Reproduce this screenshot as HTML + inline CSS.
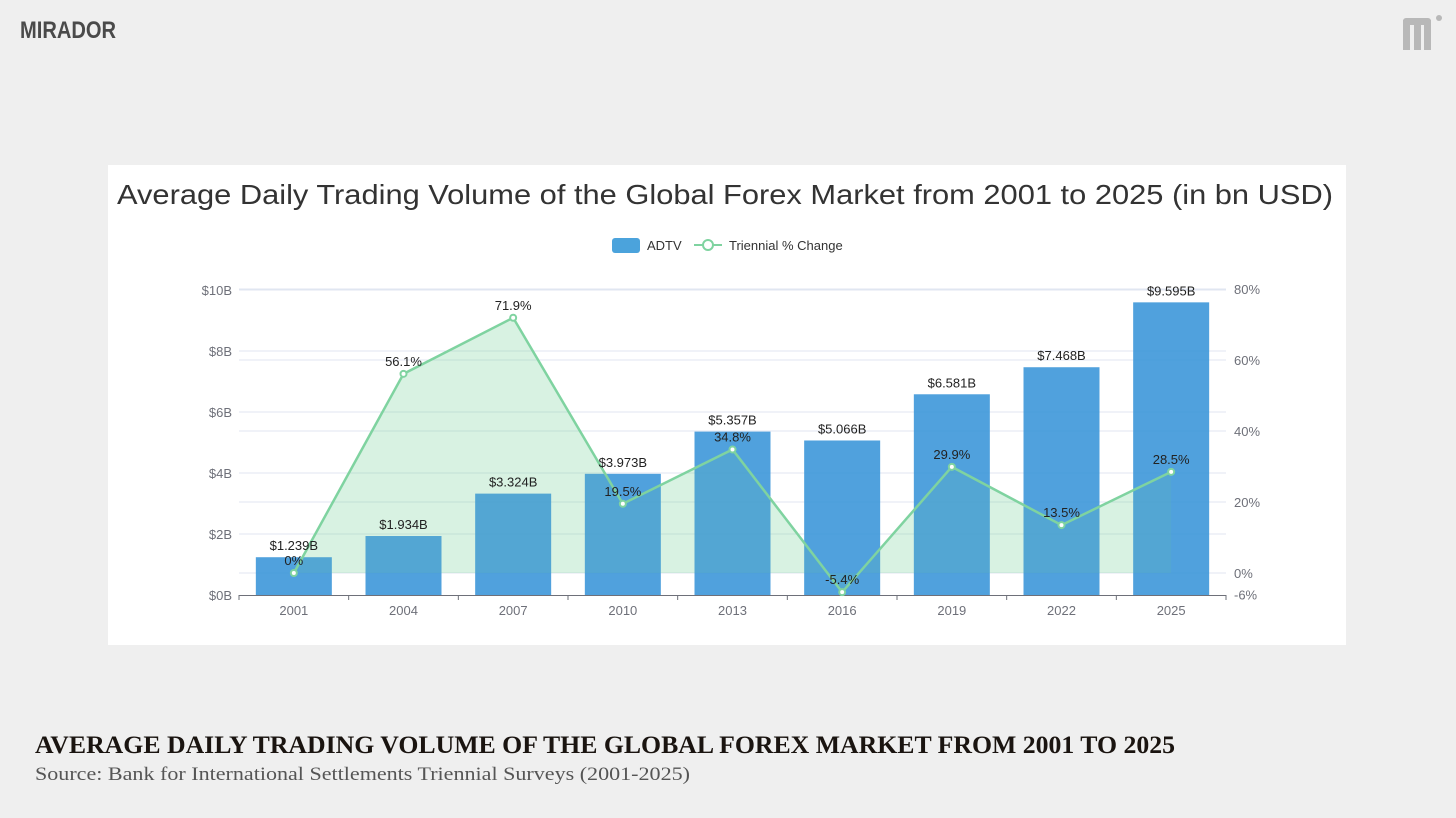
<!DOCTYPE html>
<html><head><meta charset="utf-8">
<style>
html,body{margin:0;padding:0;background:#efefef;}
body{width:1456px;height:813px;overflow:hidden;position:relative;font-family:"Liberation Sans",sans-serif;}
</style></head>
<body>
<svg id="page" width="1456" height="813" viewBox="0 0 1456 813" xmlns="http://www.w3.org/2000/svg">
<rect x="0" y="0" width="1456" height="813" fill="#efefef"/>
<text x="20" y="38" font-family="Liberation Sans, sans-serif" font-weight="bold" font-size="24" fill="#4a4a4a" textLength="96" lengthAdjust="spacingAndGlyphs">MIRADOR</text>
<g fill="#b8b8b8">
<rect x="1403" y="20" width="7" height="30"/><rect x="1403" y="18" width="28" height="7" rx="3"/><rect x="1414" y="20" width="7" height="30"/><rect x="1424" y="20" width="7" height="30"/><circle cx="1439" cy="18" r="3"/>
</g>
<rect x="108" y="165" width="1238" height="480" fill="#ffffff"/>
<text x="725" y="204" text-anchor="middle" font-size="28" fill="#333" textLength="1216" lengthAdjust="spacingAndGlyphs">Average Daily Trading Volume of the Global Forex Market from 2001 to 2025 (in bn USD)</text>
<g font-size="13" fill="#333">
<g><rect x="612" y="238" width="28" height="15" rx="3" fill="#4ba3dc"/><text x="647" y="250">ADTV</text></g>
<g><line x1="694" y1="245" x2="722" y2="245" stroke="#7fd3a0" stroke-width="2"/><circle cx="708" cy="245" r="5" fill="#fff" stroke="#7fd3a0" stroke-width="2"/><text x="729" y="250">Triennial % Change</text></g>
</g>
<g id="chart"></g>
<text x="35" y="753" font-family="Liberation Serif, serif" font-weight="bold" font-size="25" fill="#1a1410" textLength="1140" lengthAdjust="spacingAndGlyphs">AVERAGE DAILY TRADING VOLUME OF THE GLOBAL FOREX MARKET FROM 2001 TO 2025</text>
<text x="35" y="780" font-family="Liberation Serif, serif" font-size="19" fill="#555" textLength="655" lengthAdjust="spacingAndGlyphs">Source: Bank for International Settlements Triennial Surveys (2001-2025)</text>
</svg>
<script>
const categories = ["2001","2004","2007","2010","2013","2016","2019","2022","2025"];
const adtv = [1.239,1.934,3.324,3.973,5.357,5.066,6.581,7.468,9.595];
const adtvLabels = ["$1.239B","$1.934B","$3.324B","$3.973B","$5.357B","$5.066B","$6.581B","$7.468B","$9.595B"];
const pctChange = [0,56.1,71.9,19.5,34.8,-5.4,29.9,13.5,28.5];
const pctLabels = ["0%","56.1%","71.9%","19.5%","34.8%","-5.4%","29.9%","13.5%","28.5%"];
const leftTicks = [0,2,4,6,8,10];
const leftTickLabels = ["$0B","$2B","$4B","$6B","$8B","$10B"];
const rightTicks = [-6,0,20,40,60,80];
const rightTickLabels = ["-6%","0%","20%","40%","60%","80%"];

const NS="http://www.w3.org/2000/svg";
const g=document.getElementById('chart');
const X0=239, X1=1226, band=(X1-X0)/categories.length;
const xC=i=>X0+band*(i+0.5);
const yL=v=>595-v*30.5;
const yR=v=>573-v*3.55;
function mk(t,a,p){const e=document.createElementNS(NS,t);for(const k in a)e.setAttribute(k,a[k]);(p||g).appendChild(e);return e;}

leftTicks.forEach((t,i)=>{
  if(t>0){const l=mk('line',{x1:X0,x2:X1,y1:yL(t),y2:yL(t),stroke:'#e0e6f1','stroke-width':1});
  
  }
  const tx=mk('text',{x:232,y:yL(t)+5,'text-anchor':'end','font-size':13,fill:'#6e7079'});tx.textContent=leftTickLabels[i];
  
  
});
rightTicks.forEach((t,i)=>{
  if(t>0){const l=mk('line',{x1:X0,x2:X1,y1:yR(t),y2:yR(t),stroke:'#e0e6f1','stroke-width':1});
  
  }
  const tx=mk('text',{x:1234,y:yR(t)+5,'font-size':13,fill:'#6e7079'});tx.textContent=rightTickLabels[i];
  
  
});
const l0=mk('line',{x1:X0,x2:X1,y1:yR(0),y2:yR(0),stroke:'#e0e6f1'});



// area
let d='M'+xC(0)+','+yR(0);
pctChange.forEach((v,i)=>{d+=' L'+xC(i)+','+yR(v);});
d+=' L'+xC(pctChange.length-1)+','+yR(0)+' Z';
const area=mk('path',{d:d,fill:'rgba(127,211,160,0.2)'});



// bars
adtv.forEach((v,i)=>{
  const b=mk('rect',{x:xC(i)-38,y:yL(v),width:76,height:595-yL(v),fill:'#3d97d9','fill-opacity':0.9});
  
  
});
// re-draw area on top lightly
const area2=mk('path',{d:d,fill:'rgba(127,211,160,0.12)'});



// axis
const ax=mk('line',{x1:X0,x2:X1,y1:595.5,y2:595.5,stroke:'#6e7079'});


for(let i=0;i<=categories.length;i++){
  const tk=mk('line',{x1:X0+band*i,x2:X0+band*i,y1:595,y2:600,stroke:'#6e7079'});
  
  
}
categories.forEach((c,i)=>{
  const t=mk('text',{x:xC(i),y:615,'text-anchor':'middle','font-size':13,fill:'#6e7079'});t.textContent=c;
  
  
});

// line
let pts=pctChange.map((v,i)=>xC(i)+','+yR(v)).join(' ');
const pl=mk('polyline',{points:pts,fill:'none',stroke:'#7fd3a0','stroke-width':2.5});


pctChange.forEach((v,i)=>{
  const c=mk('circle',{cx:xC(i),cy:yR(v),r:3,fill:'#fff',stroke:'#7fd3a0','stroke-width':2});
  
  
});
// labels
adtv.forEach((v,i)=>{
  const t=mk('text',{x:xC(i),y:yL(v)-7,'text-anchor':'middle','font-size':13,fill:'#222'});t.textContent=adtvLabels[i];
  
  
});
pctChange.forEach((v,i)=>{
  const t=mk('text',{x:xC(i),y:yR(v)-8,'text-anchor':'middle','font-size':13,fill:'#222'});t.textContent=pctLabels[i];
  
  
});
</script>
</body></html>
